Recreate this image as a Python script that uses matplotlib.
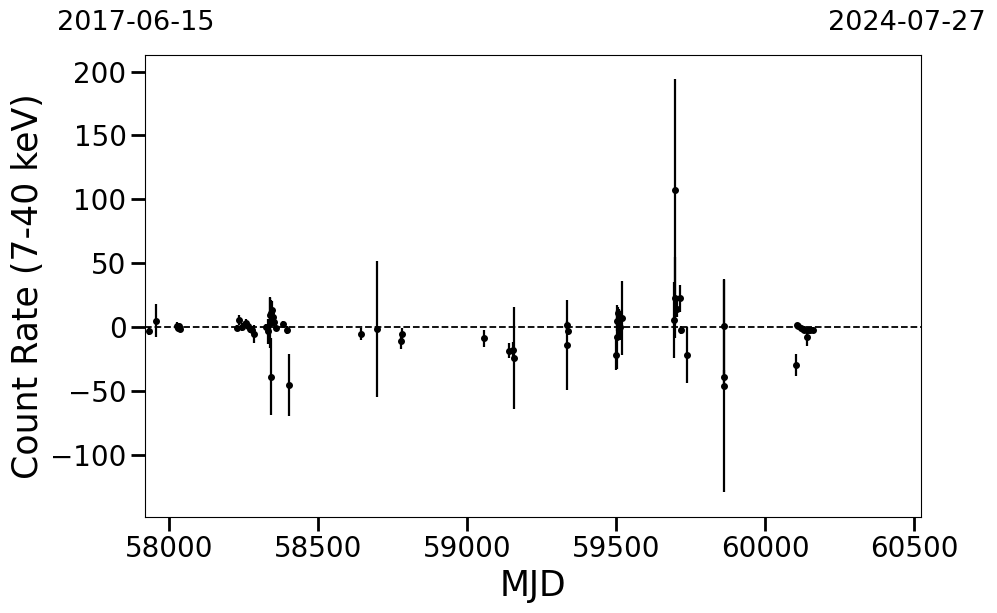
import matplotlib
matplotlib.use("Agg")
import matplotlib.pyplot as plt
import numpy as np

# light curve values
mjd = [57931, 57954, 58025, 58030, 58033, 58037,
       58227, 58235, 58245, 58252, 58258, 58264, 58270, 58278, 58285,
       58324, 58332, 58336, 58339, 58341, 58345, 58348, 58351, 58341, 58357,
       58382, 58396, 58402,
       58643, 58695, 58778, 58782, 59054,
       59141, 59154, 59157,
       59334, 59334, 59336,
       59500, 59501, 59503, 59506, 59509, 59512, 59517,
       59693, 59696, 59697, 59702, 59714, 59716, 59736,
       59862, 59862, 59862,
       60103, 60106, 60110, 60118, 60125, 60131, 60138, 60144, 60150, 60158]
rate = [-3, 5, 1, -1, 0.5, -1.5,
        -0.5, 5.5, 0, 2, 3.5, 1, -1.5, -2.5, -5.5,
        0, -3.5, 3.5, 9, 11, 13, 8, 4, -39, -1,
        2, -2.5, -45.5,
        -5.5, -1.5, -11, -5.5, -9,
        -18.5, -18, -24,
        1.5, -14, -3,
        -22, -8, 5, 11, 2, 0, 7,
        5.5, 23, 107, 14, 22.5, -2.5, -22,
        0.5, -39, -46,
        -30, 1.5, 0.5, -0.5, -1.5, -2, -8, -2, -2.5, -2]
err = [3, 13, 3, 2.5, 3, 2,
       2, 4, 3, 2.5, 3, 2, 3, 3, 7,
       2, 10, 20, 14, 10, 7, 5, 3, 30, 2,
       3, 3, 24.5,
       5, 53, 6.5, 5, 7,
       6, 6, 40,
       3, 35, 3,
       12, 25, 8, 5, 12, 10, 29,
       30, 32, 87, 6, 10.5, 3, 22,
       37, 5, 83,
       8.5, 2, 2, 2, 2, 2.5, 7, 2, 2.5, 2]

xlim = (57919, 60521)
date_labels = ["2017-06-15", "2024-07-27"]

fig = plt.figure(figsize=(9.97, 6.13), dpi=100)
ax = fig.add_axes([0.1457, 0.1571, 0.7778, 0.7527])

ax.errorbar(mjd, rate, yerr=err, fmt="o", color="k", ms=4, elinewidth=1.6, capsize=0)
ax.axhline(0, color="k", ls="--", lw=1.3)

ax.set_xlim(*xlim)
ax.set_ylim(-148.6, 212.8)
ax.set_xticks([58000, 58500, 59000, 59500, 60000, 60500])
ax.set_yticks([-100, -50, 0, 50, 100, 150, 200])
ax.tick_params(axis="both", which="major", labelsize=20, length=10, width=2)
ax.set_xlabel("MJD", fontsize=25)
ax.set_ylabel("Count Rate (7-40 keV)", fontsize=25)

# dates at the two ends of the time range
ax.text(-0.012, 1.071, date_labels[0], transform=ax.transAxes,
        ha="center", va="center", fontsize=19.5)
ax.text(0.982, 1.071, date_labels[1], transform=ax.transAxes,
        ha="center", va="center", fontsize=19.5)

fig.savefig("out.png", dpi=100)
